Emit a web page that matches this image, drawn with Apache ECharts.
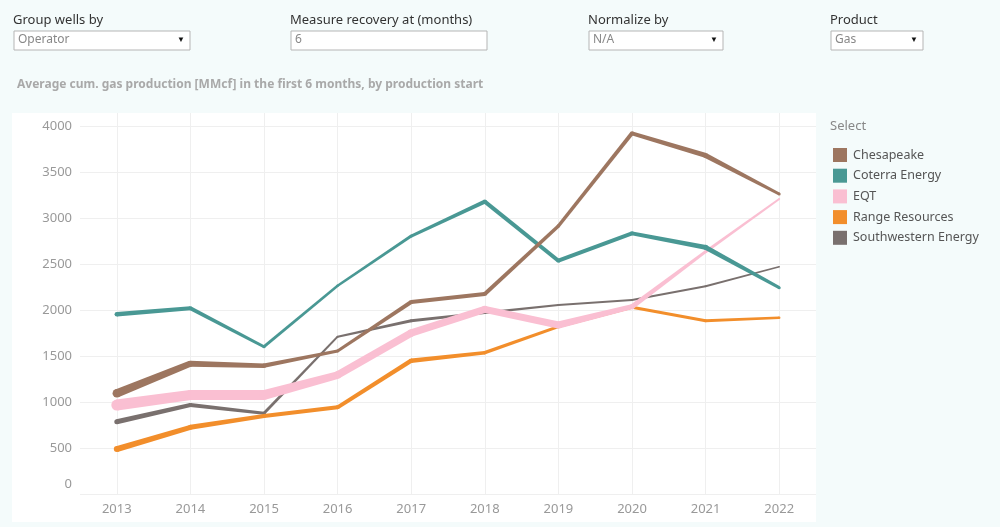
<!DOCTYPE html>
<html>
<head>
<meta charset="utf-8">
<script src="https://cdn.jsdelivr.net/npm/echarts@6/dist/echarts.min.js"></script>
<style>
html,body{margin:0;padding:0;background:#f4fbfb;}
#chart{width:1000px;height:527px;}
</style>
</head>
<body>
<div id="chart"></div>
<script>
// ---- data ----
const years = ['2013','2014','2015','2016','2017','2018','2019','2020','2021','2022'];
const operators = ['Chesapeake','Coterra Energy','EQT','Range Resources','Southwestern Energy'];
const chesapeake   = [1094,1417,1395,1554,2087,2174,2913,3920,3680,3261];
const coterra      = [1953,2018,1601,2264,2804,3178,2536,2833,2681,2243];
const eqt          = [967,1076,1076,1293,1750,2007,1837,2036,2634,3207];
const rangeRes     = [489,725,848,942,1449,1536,1819,2029,1884,1917];
const southwestern = [786,967,877,1710,1884,1971,2054,2109,2259,2471];
const yTicks = [0,500,1000,1500,2000,2500,3000,3500,4000];

// ---- styles (line widths per point, colours) ----
const styles = {
  'Chesapeake':          {color:'#9d7660', w:[8.5,6,4.5,3,4,4,3.5,4,5,3]},
  'Coterra Energy':      {color:'#499894', w:[4.5,4,3,2.5,3,4,4,4,5,3]},
  'EQT':                 {color:'#fabfd2', w:[11,10,10,7.5,7.5,7,7,5,3,2]},
  'Range Resources':     {color:'#f28e2b', w:[6,5,4,4,4.5,3.5,3,3,3,2.5]},
  'Southwestern Energy': {color:'#79706e', w:[5,4,3,2,3,2.5,2,2,2,1.5]}
};
const seriesValues = {
  'Chesapeake': chesapeake,
  'Coterra Energy': coterra,
  'EQT': eqt,
  'Range Resources': rangeRes,
  'Southwestern Energy': southwestern
};
const drawOrder = ['Southwestern Energy','Range Resources','EQT','Coterra Energy','Chesapeake'];

function makeSeries(name){
  const vals = seriesValues[name];
  const st = styles[name];
  return {
    name: name,
    type: 'custom',
    xAxisIndex: 0, yAxisIndex: 0,
    itemStyle: {color: st.color},
    data: vals.map((v,i)=>[i,v]),
    encode: {x:0, y:1},
    renderItem: function(params, api){
      const i = api.value(0);
      const p0 = api.coord([i, api.value(1)]);
      const w0 = st.w[i];
      const children = [{
        type:'circle',
        shape:{cx:p0[0], cy:p0[1], r:w0/2},
        style:{fill:st.color}
      }];
      if (i < vals.length-1){
        const p1 = api.coord([i+1, vals[i+1]]);
        const w1 = st.w[i+1];
        const dx = p1[0]-p0[0], dy = p1[1]-p0[1];
        const L = Math.sqrt(dx*dx+dy*dy) || 1;
        const nx = -dy/L, ny = dx/L;
        children.push({
          type:'polygon',
          shape:{points:[
            [p0[0]+nx*w0/2, p0[1]+ny*w0/2],
            [p1[0]+nx*w1/2, p1[1]+ny*w1/2],
            [p1[0]-nx*w1/2, p1[1]-ny*w1/2],
            [p0[0]-nx*w0/2, p0[1]-ny*w0/2]
          ]},
          style:{fill:st.color}
        });
      }
      return {type:'group', children: children};
    }
  };
}

const FONT = '"Noto Sans", "Open Sans", sans-serif';

function dropdown(x, y, w, label, value, arrow){
  const els = [
    {type:'text', left:x, top:y-17, style:{text:label, font:'13px '+FONT, fill:'#333'}},
    {type:'rect', shape:{x:x+1, y:y, width:w, height:19}, style:{fill:'#ffffff', stroke:'#b5b5b5', lineWidth:1}},
    {type:'text', left:x+5, top:y+3, style:{text:value, font:'12px '+FONT, fill:'#888'}}
  ];
  if (arrow){
    els.push({type:'text', left:x+w-12, top:y+5, style:{text:'▼', font:'8px '+FONT, fill:'#111'}});
  }
  return els;
}

const chart = echarts.init(document.getElementById('chart'), null, {renderer:'canvas'});
const option = {
  animation:false,
  backgroundColor:'#f4fbfb',
  textStyle:{fontFamily:FONT},
  graphic:[
    {type:'rect', z:-10, shape:{x:12, y:113, width:804, height:409}, style:{fill:'#ffffff'}},
    ...dropdown(13, 31, 176, 'Group wells by', 'Operator', true),
    ...dropdown(290, 31, 196, 'Measure recovery at (months)', '6', false),
    ...dropdown(588, 31, 134, 'Normalize by', 'N/A', true),
    ...dropdown(830, 31, 92, 'Product', 'Gas', true),
    {type:'text', left:17, top:79, style:{text:'Average cum. gas production [MMcf] in the first 6 months, by production start', font:'bold 12px '+FONT, fill:'#a9a9a9'}},
    {type:'text', left:830, top:120, style:{text:'Select', font:'13px '+FONT, fill:'#888'}}
  ],
  legend:{
    data: operators,
    orient:'vertical',
    left:828, top:143,
    icon:'rect',
    itemWidth:14, itemHeight:14,
    itemGap:6.7,
    textStyle:{color:'#555', fontSize:12.5, fontFamily:FONT, padding:[0,0,0,1]},
    selectedMode:false
  },
  grid:[
    {left:80, right:184, top:126, bottom:33},
    {left:116.8, right:220.8, top:113, bottom:33}
  ],
  xAxis:[
    {gridIndex:0, type:'category', data:years, boundaryGap:true, show:false},
    {gridIndex:1, type:'category', data:years, boundaryGap:false,
     axisLine:{show:false}, axisTick:{show:false},
     splitLine:{show:true, lineStyle:{color:'#efefef', width:1}},
     axisLabel:{color:'#999', fontSize:13, margin:9, fontFamily:FONT}}
  ],
  yAxis:[
    {gridIndex:0, type:'value', min:0, max:4000, interval:500,
     axisLine:{show:false}, axisTick:{show:false},
     splitLine:{show:true, lineStyle:{color:'#efefef', width:1}},
     axisLabel:{color:'#999', fontSize:13, margin:8, fontFamily:FONT,
       formatter:function(v){ return v===0 ? '{z|0}' : String(v); },
       rich:{z:{color:'#999', fontSize:13, fontFamily:FONT, padding:[0,0,20,0]}}}},
    {gridIndex:1, type:'value', min:0, max:1, show:false, splitLine:{show:false}}
  ],
  series: drawOrder.map(makeSeries)
};
chart.setOption(option);
</script>
</body>
</html>
